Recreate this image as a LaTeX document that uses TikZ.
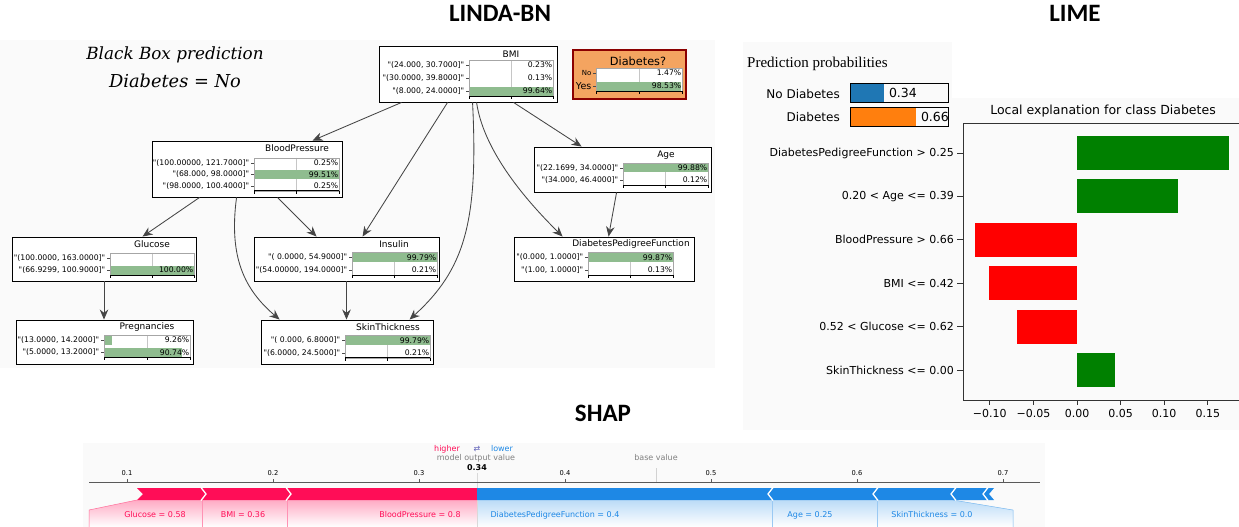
\documentclass[tikz,border=0pt]{standalone}
\usepackage{fontspec}
\usetikzlibrary{arrows.meta}
\newfontfamily\dejavu{DejaVu Sans}
\newfontfamily\dejavuserif{DejaVu Serif}
\newfontfamily\carlito{Carlito}
\newfontfamily\libserif{Liberation Serif}

\definecolor{bnedge}{HTML}{454545}
\definecolor{bngreen}{HTML}{8FBC8F}
\definecolor{diabfill}{HTML}{F4A460}
\definecolor{diabline}{HTML}{8B0000}
\definecolor{limeblue}{HTML}{1F77B4}
\definecolor{limeorange}{HTML}{FF7F0E}
\definecolor{limegreen}{HTML}{008000}
\definecolor{limered}{HTML}{FF0000}
\definecolor{shapred}{HTML}{FF0D57}
\definecolor{shapblue}{HTML}{1E88E5}
\definecolor{panelbg}{HTML}{FAFAFA}

% probability table of one Bayesian-network node
% #1 name prefix, #2 bar left, #3 bar right, #4 first row y, #5 row step, #6 rows, #7 label/percent/text list
\newcommand\bntable[7]{%
  \pgfmathsetmacro\bnmid{(#2+#3)/2}%
  \pgfmathsetmacro\bntop{#4-5}%
  \pgfmathsetmacro\bnbot{#4+(#6-1)*#5+5}%
  \fill[white] (#2,\bntop) rectangle (#3,\bnbot);
  \draw[gray!45, line width=0.4pt] (\bnmid,\bntop) -- (\bnmid,\bnbot);
  \foreach \lab/\p/\txt [count=\i] in {#7} {
    \pgfmathsetmacro\ry{#4+(\i-1)*#5}
    \fill[bngreen] (#2,\ry-4.5) rectangle ({#2+\p*(#3-#2)/100},\ry+4.5);
    \draw[black!70, line width=0.4pt] (#2-3,\ry) -- (#2,\ry);
    \node[rowlab] (#1-lab\i) at (#2-4.5,\ry) {\lab};
    \node[rowlab] (#1-pct\i) at (#3-0.5,\ry) {\txt};
  }
  \draw[gray!70, line width=0.4pt] (#2,\bntop) rectangle (#3,\bnbot);
  \draw[black, line width=0.6pt] (#2,\bnbot) -- (#3,\bnbot);
  \foreach \tx in {#2,\bnmid,#3} \draw[black, line width=0.5pt] (\tx,\bnbot) -- (\tx,\bnbot+3);
}

\begin{document}
\begin{tikzpicture}[x=1pt, y=-1pt,
  bnbox/.style={draw=black, line width=0.9pt, fill=white, inner sep=0pt},
  bntitle/.style={font=\dejavu\fontsize{9}{10}\selectfont, inner sep=0pt},
  rowlab/.style={font=\dejavu\fontsize{7.7}{8}\selectfont, inner sep=0pt, anchor=east},
  edge/.style={draw=bnedge, line width=0.85pt, -{Stealth[length=10pt, width=8.5pt]}},
  heading/.style={font=\carlito\bfseries\fontsize{25}{28}\selectfont, inner sep=0pt},
  probbox/.style={minimum width=97pt, minimum height=18pt, inner sep=0pt},
  limelab/.style={font=\dejavu\fontsize{11}{12}\selectfont, inner sep=0pt},
  shaptxt/.style={font=\dejavu\fontsize{8}{9}\selectfont, inner sep=0pt},
  shaptick/.style={font=\dejavu\fontsize{6.7}{7}\selectfont, inner sep=0pt},
  bbtext/.style={inner sep=0pt, font=\dejavuserif\itshape\fontsize{16.8}{20}\selectfont}]
\useasboundingbox (0,0) rectangle (1239,527);
\fill[white] (0,0) rectangle (1239,527);

% panel backgrounds
\fill[panelbg] (0,40) rectangle (715,368);
\fill[panelbg] (743,42) rectangle (952,128);
\fill[panelbg] (743,98) rectangle (1239,430);
\fill[panelbg] (83,443) rectangle (1045,527);

% headings
\node[heading] (h-linda) at (500,13) {LINDA-BN};
\node[heading] (h-lime) at (1075,13) {LIME};
\node[heading] (h-shap) at (603,413) {SHAP};

% ---------------- LINDA-BN ----------------
\node[bbtext] (bb1) at (175,55) {Black Box prediction};
\node[bbtext, font=\dejavuserif\itshape\fontsize{17.8}{20}\selectfont] (bb2) at (175,81) {Diabetes {\upshape=} No};

\node[bnbox, minimum width=178pt, minimum height=56pt] (bmi) at (468,74) {};
\node[draw=diabline, line width=2.5pt, fill=diabfill, minimum width=113pt, minimum height=49pt, inner sep=0pt] (diab) at (629.5,74.5) {};
\node[bnbox, minimum width=177pt, minimum height=45pt] (age) at (622.5,169.5) {};
\node[bnbox, minimum width=190pt, minimum height=56pt] (bp) at (247,169) {};
\node[bnbox, minimum width=184pt, minimum height=44pt] (glu) at (104,259) {};
\node[bnbox, minimum width=177pt, minimum height=44pt] (preg) at (104.5,342) {};
\node[bnbox, minimum width=185pt, minimum height=44pt] (ins) at (346.5,259) {};
\node[bnbox, minimum width=172pt, minimum height=44pt] (skin) at (347,342) {};
\node[bnbox, minimum width=180pt, minimum height=44pt] (dpf) at (604,259) {};

\node[bntitle] (bmi-t) at (511,54) {BMI};
\node[inner sep=0pt, font=\dejavu\fontsize{11.3}{12}\selectfont] (diab-t) at (638,61) {Diabetes?};
\node[bntitle] (age-t) at (666,155) {Age};
\node[bntitle] (bp-t) at (297,148.5) {BloodPressure};
\node[bntitle] (glu-t) at (152,244) {Glucose};
\node[bntitle] (preg-t) at (147,327) {Pregnancies};
\node[bntitle] (ins-t) at (394,244) {Insulin};
\node[bntitle] (skin-t) at (388,327) {SkinThickness};
\node[bntitle] (dpf-t) at (631,244) {DiabetesPedigreeFunction};

\bntable{bmi}{469}{553}{65}{13}{3}{{"(24.000, 30.7000]"}/0.23/0.23\%, {"(30.0000, 39.8000]"}/0.13/0.13\%, {"(8.000, 24.0000]"}/99.64/99.64\%}
\bntable{diab}{596}{682}{73}{13}{2}{{\fontsize{7}{8}\selectfont No}/1.47/1.47\%, {\fontsize{9.5}{10}\selectfont Yes}/98.53/98.53\%}
\bntable{age}{623}{708}{167.7}{12.3}{2}{{"(22.1699, 34.0000]"}/99.88/99.88\%, {"(34.000, 46.4000]"}/0.12/0.12\%}
\bntable{bp}{254}{339}{162.7}{11.5}{3}{{"(100.00000, 121.7000]"}/0.25/0.25\%, {"(68.000, 98.0000]"}/99.51/99.51\%, {"(98.0000, 100.4000]"}/0.25/0.25\%}
\bntable{glu}{110}{194}{257.7}{12.3}{2}{{"(100.0000, 163.0000]"}/0/{}, {"(66.9299, 100.9000]"}/100/100.00\%}
\bntable{preg}{104}{190}{340}{12.3}{2}{{"(13.0000, 14.2000]"}/9.26/9.26\%, {"(5.0000, 13.2000]"}/90.74/90.74\%}
\bntable{ins}{352}{437}{257.3}{12.7}{2}{{"( 0.0000, 54.9000]"}/99.79/99.79\%, {"(54.00000, 194.0000]"}/0.21/0.21\%}
\bntable{skin}{345}{430}{340.3}{12.4}{2}{{"( 0.000, 6.8000]"}/99.79/99.79\%, {"(6.0000, 24.5000]"}/0.21/0.21\%}
\bntable{dpf}{588}{673}{257.3}{12.7}{2}{{"(0.000, 1.0000]"}/99.87/99.87\%, {"(1.00, 1.0000]"}/0.13/0.13\%}

% network edges
\draw[edge] ([xshift=23pt]bmi.south west) -- ([xshift=161pt]bp.north west);
\draw[edge] ([xshift=69pt]bmi.south west) -- ([xshift=109pt]ins.north west);
\draw[edge] ([xshift=94pt]bmi.south west) .. controls +(6,120) and +(55,-50) .. ([xshift=149pt]skin.north west);
\draw[edge] ([xshift=98pt]bmi.south west) .. controls +(8,55) and +(-25,-25) .. ([xshift=49pt]dpf.north west);
\draw[edge] ([xshift=135pt]bmi.south west) -- ([xshift=48pt]age.north west);
\draw[edge] ([xshift=83pt]age.south west) -- ([xshift=95pt]dpf.north west);
\draw[edge] ([xshift=48pt]bp.south west) -- ([xshift=131pt]glu.north west);
\draw[edge] ([xshift=126pt]bp.south west) -- ([xshift=63pt]ins.north west);
\draw[edge] ([xshift=85pt]bp.south west) .. controls +(-8,60) and +(-35,-30) .. ([xshift=19pt]skin.north west);
\draw[edge] (glu.south) -- (glu.south |- preg.north);
\draw[edge] (ins.south) -- (ins.south |- skin.north);

% ---------------- LIME ----------------
\node[anchor=west, inner sep=0pt, font=\libserif\fontsize{15}{17}\selectfont] (pp) at (747,64) {Prediction probabilities};
\node[anchor=east, inner sep=0pt, font=\dejavu\fontsize{12}{13}\selectfont] (nd-lab) at (840,94) {No Diabetes};
\node[anchor=east, inner sep=0pt, font=\dejavu\fontsize{12}{13}\selectfont] (d-lab) at (840,117) {Diabetes};
\node[probbox] (ndbar) at (899.5,93) {};
\fill[limeblue] (ndbar.north west) rectangle ([xshift=33pt]ndbar.south west);
\node[anchor=west, inner sep=0pt, font=\dejavu\fontsize{12.5}{13}\selectfont] (nd-val) at ([xshift=38pt]ndbar.west) {0.34};
\draw[line width=0.8pt] (ndbar.north west) rectangle (ndbar.south east);
\node[probbox] (dbar) at (899.5,117) {};
\fill[limeorange] (dbar.north west) rectangle ([xshift=65pt]dbar.south west);
\begin{scope}
  \clip (dbar.north west) rectangle (dbar.south east);
  \node[anchor=west, inner sep=0pt, font=\dejavu\fontsize{12.5}{13}\selectfont] (d-val) at ([xshift=70pt]dbar.west) {0.66};
\end{scope}
\draw[line width=0.8pt] (dbar.north west) rectangle (dbar.south east);

\node[inner sep=0pt, font=\dejavu\fontsize{12.5}{14}\selectfont] (lime-title) at (1103,111) {Local explanation for class Diabetes};
\foreach \lab/\val/\col [count=\i] in {{DiabetesPedigreeFunction > 0.25}/0.174/limegreen, {0.20 < Age <= 0.39}/0.116/limegreen, {BloodPressure > 0.66}/-0.117/limered, {BMI <= 0.42}/-0.101/limered, {0.52 < Glucose <= 0.62}/-0.069/limered, {SkinThickness <= 0.00}/0.043/limegreen} {
  \pgfmathsetmacro\yy{153+(\i-1)*43.4}
  \fill[\col] (1077,\yy-17) rectangle ({1077+872*\val},\yy+17);
  \node[limelab, anchor=east] (lime-l\i) at (954,\yy) {\lab};
  \draw[black!80, line width=0.7pt] (957,\yy) -- (963,\yy);
}
\draw[black!80, line width=0.8pt] (1239,123) -- (963,123) -- (963,400) -- (1239,400);
\foreach \t/\tl [count=\i] in {-0.10/−0.10, -0.05/−0.05, 0/0.00, 0.05/0.05, 0.10/0.10, 0.15/0.15} {
  \pgfmathsetmacro\xx{1077+872*\t}
  \draw[black!80, line width=0.7pt] (\xx,400) -- (\xx,405);
  \node[limelab] (lime-x\i) at (\xx,413) {\tl};
}

% ---------------- SHAP ----------------
\shade[top color=shapred!35, bottom color=white] (137,500) -- (477,500) -- (477,527) -- (89,527) -- (89,510) -- cycle;
\shade[top color=shapblue!30, bottom color=white] (477,500) -- (953,500) -- (1013,510) -- (1013,527) -- (477,527) -- cycle;
\draw[shapred!60, line width=0.5pt] (137,500) -- (89,510) -- (89,527);
\draw[shapred!45, line width=0.5pt] (202,500) -- (202,527) (287,500) -- (287,527);
\draw[shapblue!45, line width=0.5pt] (772,500) -- (772,527) (877,500) -- (877,527);
\draw[shapblue!60, line width=0.5pt] (953,500) -- (1013,510) -- (1013,527);
\draw[gray!30, line width=0.5pt] (477,473) -- (477,527);

\draw[black!65, line width=0.6pt] (89,482) -- (1040,482);
\foreach \k in {1,...,7} {
  \pgfmathsetmacro\sx{-19+146*\k}
  \draw[black!65, line width=0.5pt] (\sx,479) -- (\sx,482);
  \node[shaptick] (shap-t\k) at (\sx,473.5) {0.\k};
}
\draw[gray!35, line width=0.6pt] (656,468) -- (656,482);
\node[shaptxt, text=gray] (basev) at (656,458) {base value};
\node[shaptxt, text=shapred] (higher) at (447,449) {higher};
\node[shaptxt, text=shapblue!70!shapred] (swap) at (477,449) {⇄};
\node[shaptxt, text=shapblue] (lower) at (502,449) {lower};
\node[shaptxt, text=gray] (mov) at (476,458) {model output value};
\node[shaptxt, font=\dejavu\bfseries\fontsize{8}{9}\selectfont] (outv) at (477,468) {0.34};

\fill[shapred] (137,488) -- (477,488) -- (477,500) -- (137,500) -- (143,494) -- cycle;
\fill[shapblue] (477,488) -- (994,488) -- (989,494) -- (994,500) -- (477,500) -- cycle;
\foreach \cx in {201,286} \draw[white, line width=1.3pt] (\cx,487.5) -- (\cx+5,494) -- (\cx,500.5);
\foreach \cx in {773,878,956,988} \draw[white, line width=1.3pt] (\cx,487.5) -- (\cx-5,494) -- (\cx,500.5);

\node[shaptxt, text=shapred] (s-glu) at (155,515) {Glucose = 0.58};
\node[shaptxt, text=shapred] (s-bmi) at (243,515) {BMI = 0.36};
\node[shaptxt, text=shapred] (s-bp) at (420,515) {BloodPressure = 0.8};
\node[shaptxt, text=shapblue] (s-dpf) at (555,515) {DiabetesPedigreeFunction = 0.4};
\node[shaptxt, text=shapblue] (s-age) at (810,515) {Age = 0.25};
\node[shaptxt, text=shapblue] (s-skin) at (932,515) {SkinThickness = 0.0};
\end{tikzpicture}
\end{document}
